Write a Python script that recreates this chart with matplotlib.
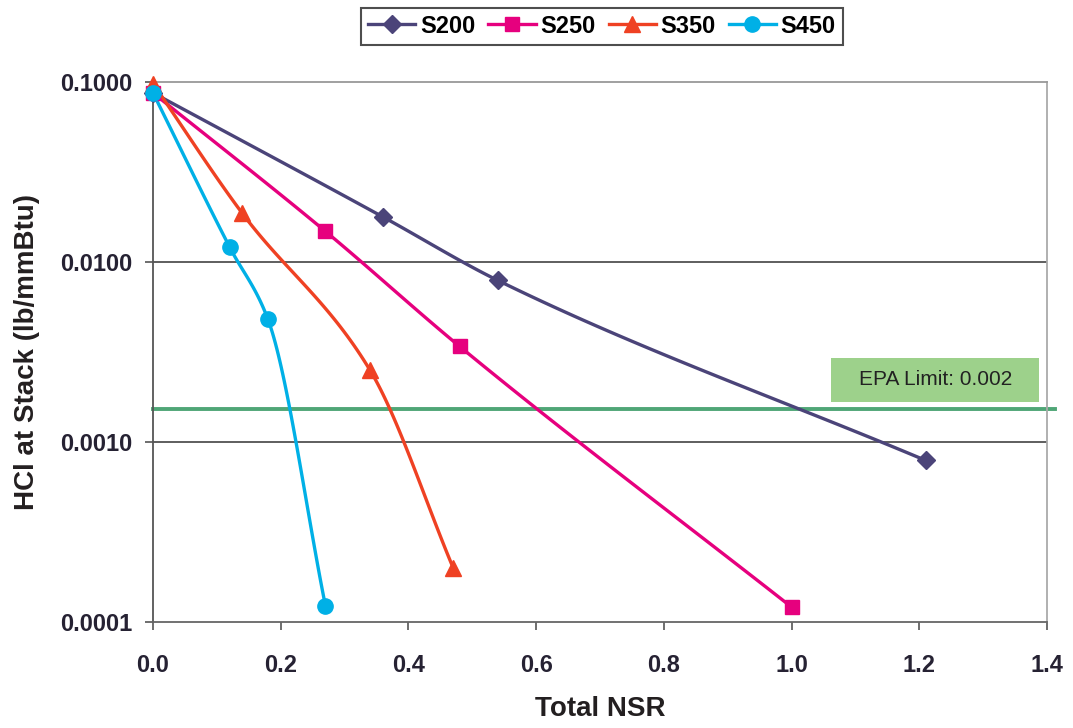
import numpy as np
import matplotlib
matplotlib.use("Agg")
import matplotlib.pyplot as plt
from matplotlib.patches import Rectangle

plt.rcParams["font.family"] = ["Liberation Sans", "DejaVu Sans"]

# values
s200_x = [0.0, 0.36, 0.54, 1.21]
s200_y = [0.087, 0.0178, 0.0079, 0.00079]

s250_x = [0.0, 0.27, 0.48, 1.0]
s250_y = [0.087, 0.0148, 0.0034, 0.000121]

s350_x = [0.0, 0.14, 0.34, 0.47]
s350_y = [0.098, 0.0186, 0.0025, 0.0002]

s450_x = [0.0, 0.12, 0.18, 0.27]
s450_y = [0.087, 0.0121, 0.0048, 0.000123]

epa_limit = 0.00152
epa_label = "EPA Limit: 0.002"

x_ticks = [0.0, 0.2, 0.4, 0.6, 0.8, 1.0, 1.2, 1.4]
y_ticks = [0.0001, 0.001, 0.01, 0.1]
y_tick_labels = ["0.0001", "0.0010", "0.0100", "0.1000"]


def smooth(xs, ys, n=40):
    # smoothed line like the spreadsheet's, monotone cubic in (x, log y)
    x = np.array(xs, dtype=float)
    y = np.log10(np.array(ys, dtype=float))
    h = np.diff(x)
    d = np.diff(y) / h
    m = np.zeros_like(y)
    m[0], m[-1] = d[0], d[-1]
    for k in range(1, len(x) - 1):
        if d[k - 1] * d[k] > 0:
            w1 = 2 * h[k] + h[k - 1]
            w2 = h[k] + 2 * h[k - 1]
            m[k] = (w1 + w2) / (w1 / d[k - 1] + w2 / d[k])
    outx, outy = [], []
    for k in range(len(x) - 1):
        t = np.linspace(0, 1, n)
        h00 = 2 * t ** 3 - 3 * t ** 2 + 1
        h10 = t ** 3 - 2 * t ** 2 + t
        h01 = -2 * t ** 3 + 3 * t ** 2
        h11 = t ** 3 - t ** 2
        outx.append(x[k] + t * h[k])
        outy.append(h00 * y[k] + h10 * h[k] * m[k]
                    + h01 * y[k + 1] + h11 * h[k] * m[k + 1])
    return np.concatenate(outx), 10 ** np.concatenate(outy)


fig = plt.figure(figsize=(10.73, 7.28), dpi=100)
ax = fig.add_axes([0.1426, 0.1456, 0.8332, 0.7418])

series = [
    ("S200", s200_x, s200_y, "#4b4479", "D", 9),
    ("S250", s250_x, s250_y, "#e6007e", "s", 10),
    ("S350", s350_x, s350_y, "#ef4123", "^", 11),
    ("S450", s450_x, s450_y, "#00b0e6", "o", 11),
]

for name, xs, ys, color, marker, ms in series:
    sx, sy = smooth(xs, ys)
    ax.plot(sx, sy, color=color, lw=2.4, zorder=3, clip_on=False)
    ax.plot(xs, ys, linestyle="none", marker=marker, markersize=ms,
            color=color, zorder=4, clip_on=False)
    ax.plot([], [], color=color, lw=2.4, marker=marker, markersize=ms,
            label=name)

ax.plot([0, 1.413], [epa_limit, epa_limit], color="#4fa676", lw=2.8,
        zorder=2, clip_on=False)
ax.add_patch(Rectangle((1.062, 0.00167), 0.326, 0.00293 - 0.00167,
                       facecolor="#9dd18b", edgecolor="none", zorder=2))
ax.text(1.225, 0.00221, epa_label, ha="center", va="center", fontsize=15,
        color="#222222", zorder=3)

ax.set_yscale("log")
ax.set_xlim(0, 1.4)
ax.set_ylim(0.0001, 0.1)
ax.set_xticks(x_ticks)
ax.set_xticklabels([f"{v:.1f}" for v in x_ticks])
ax.set_yticks(y_ticks)
ax.set_yticklabels(y_tick_labels)
ax.yaxis.set_minor_locator(matplotlib.ticker.NullLocator())

for lab in ax.get_xticklabels() + ax.get_yticklabels():
    lab.set_fontweight("bold")
    lab.set_fontsize(17)
    lab.set_color("#262233")

ax.tick_params(axis="both", direction="out", length=6, width=1.2,
               color="#555555")
ax.tick_params(axis="x", pad=17)
ax.tick_params(axis="y", pad=9)

for gy in [0.01, 0.001]:
    ax.axhline(gy, color="#333333", lw=1.1, zorder=1)

ax.spines["top"].set_color("#999999")
ax.spines["right"].set_color("#aaaaaa")
ax.spines["left"].set_color("#555555")
ax.spines["bottom"].set_color("#666666")
for s in ["left", "bottom", "right", "top"]:
    ax.spines[s].set_linewidth(1.3)

ax.set_xlabel("Total NSR", fontsize=20, fontweight="bold", color="#231f20",
              labelpad=14)
ax.set_ylabel("HCl at Stack (lb/mmBtu)", fontsize=20, fontweight="bold",
              color="#231f20", labelpad=14)

leg = fig.legend(loc="center", bbox_to_anchor=(0.561, 0.964), ncol=4,
                 frameon=True, fancybox=False, edgecolor="#222222",
                 handlelength=2.0, columnspacing=0.55, handletextpad=0.2,
                 borderpad=0.3, prop={"weight": "bold", "size": 17})
leg.get_frame().set_linewidth(1.5)

fig.savefig("out.png", dpi=100)
